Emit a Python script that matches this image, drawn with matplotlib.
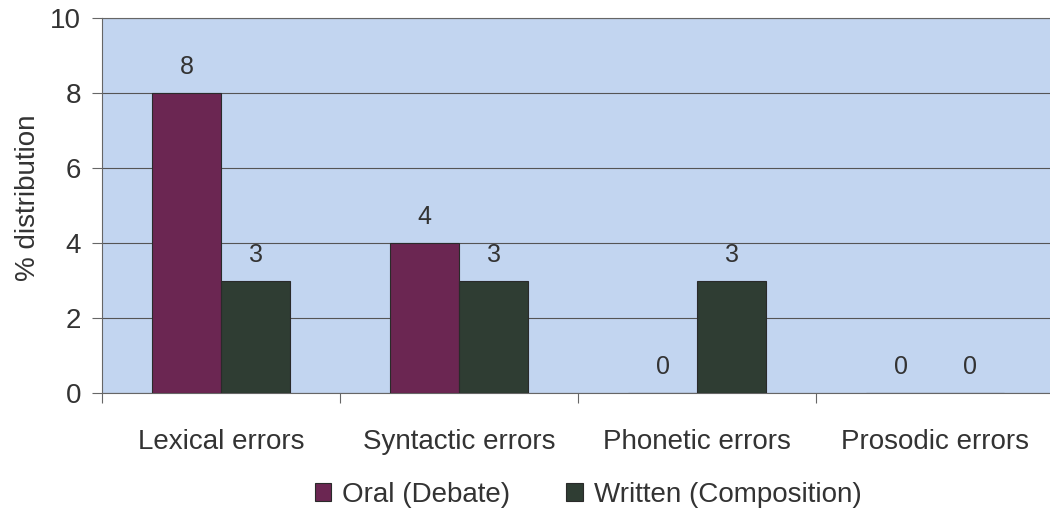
import matplotlib.pyplot as plt
import numpy as np

categories = ['Lexical errors', 'Syntactic errors', 'Phonetic errors', 'Prosodic errors']
oral = [8, 4, 0, 0]
written = [3, 3, 3, 0]
series_names = ['Oral (Debate)', 'Written (Composition)']
y_ticks = [0, 2, 4, 6, 8, 10]

plt.rcParams['font.family'] = ['Liberation Sans', 'DejaVu Sans']
text_color = '#333333'

fig = plt.figure(figsize=(10.5, 5.17), dpi=100)
ax = fig.add_axes([0.0971, 0.2398, 0.907, 0.7252])
ax.set_facecolor('#c2d5f0')

x = np.arange(len(categories))
w = 0.29
b1 = ax.bar(x - w / 2, oral, w, color='#6b2652', edgecolor='#2a2a2a', linewidth=0.8,
            label=series_names[0], zorder=3)
b2 = ax.bar(x + w / 2, written, w, color='#2f3d33', edgecolor='#2a2a2a', linewidth=0.8,
            label=series_names[1], zorder=3)

for bars, vals in [(b1, oral), (b2, written)]:
    for rect, v in zip(bars, vals):
        ax.annotate(str(v), (rect.get_x() + rect.get_width() / 2, v),
                    xytext=(0, 10), textcoords='offset points',
                    ha='center', va='bottom', fontsize=18, color=text_color)

ax.set_xlim(-0.5, 3.5)
ax.set_ylim(0, 10)
ax.set_yticks(y_ticks)
ax.set_yticklabels([str(t) for t in y_ticks], fontsize=20, color=text_color)
ax.set_xticks(x)
ax.set_xticklabels(categories, fontsize=20, color=text_color)
ax.set_xticks(np.arange(-0.5, 4, 1), minor=True)
ax.tick_params(axis='x', which='major', length=0, pad=26)
ax.tick_params(axis='x', which='minor', length=7, color='#666666', width=0.8)
ax.tick_params(axis='y', length=7, color='#666666', width=0.8, pad=8)

ax.grid(axis='y', color='#555555', linewidth=0.8, zorder=1)
ax.set_axisbelow(True)
ax.spines['right'].set_visible(False)
for side in ['left', 'bottom', 'top']:
    ax.spines[side].set_color('#666666')
    ax.spines[side].set_linewidth(0.8)

ax.set_ylabel('% distribution', fontsize=20, color=text_color)
ax.yaxis.set_label_coords(-0.064, 0.52)

fig.legend(handles=[b1, b2], loc='center', bbox_to_anchor=(0.56, 0.043), ncol=2,
           frameon=False, fontsize=20, handlelength=0.6, handleheight=0.6,
           handletextpad=0.4, columnspacing=2.0, labelcolor=text_color)

fig.savefig('out.png', dpi=100, facecolor='white')
